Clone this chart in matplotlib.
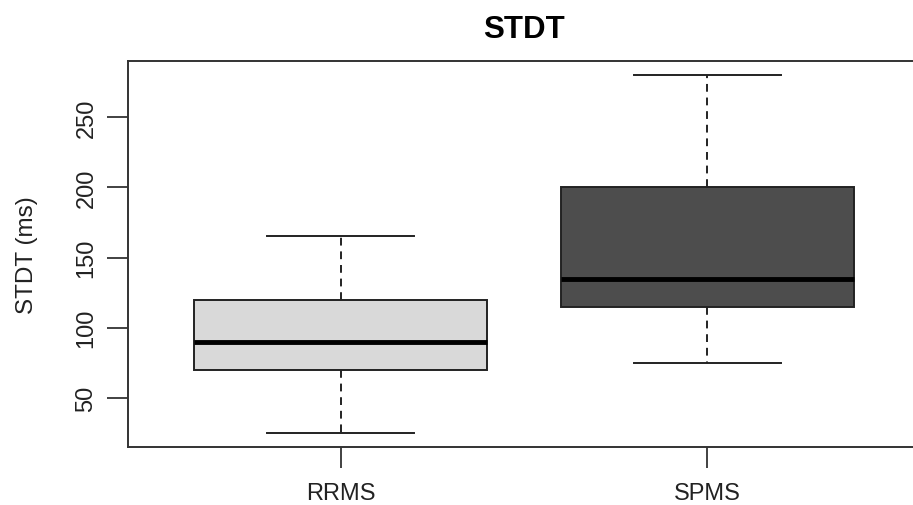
import matplotlib
matplotlib.use("Agg")
import matplotlib.pyplot as plt

plt.rcParams['font.family'] = ['Liberation Sans', 'DejaVu Sans']

categories = ["RRMS", "SPMS"]
whisker_low = [25, 75]
q1 = [70, 115]
medians = [90, 135]
q3 = [120, 200]
whisker_high = [165, 280]
fills = ["#d9d9d9", "#4d4d4d"]
yticks = [50, 100, 150, 200, 250]

fig = plt.figure(figsize=(9.13, 5.06), dpi=100)
ax = fig.add_axes([128/913, 58/506, (920-128)/913, (448-62)/506])

stats = []
for i, c in enumerate(categories):
    stats.append(dict(label=c, whislo=whisker_low[i], q1=q1[i], med=medians[i],
                      q3=q3[i], whishi=whisker_high[i], fliers=[]))

bp = ax.bxp(stats, positions=[1, 2], widths=0.8, patch_artist=True,
            showfliers=False,
            boxprops=dict(edgecolor='#222222', linewidth=1.4),
            medianprops=dict(color='black', linewidth=3.5, solid_capstyle='butt'),
            whiskerprops=dict(color='#222222', linewidth=1.4, linestyle=(0, (4, 3))),
            capprops=dict(color='#222222', linewidth=1.4),
            capwidths=0.4)
for patch, f in zip(bp['boxes'], fills):
    patch.set_facecolor(f)

ax.set_xlim(0.42, 2.58)
ax.set_ylim(14.8, 290.2)
ax.set_yticks(yticks)
ax.set_yticklabels([str(v) for v in yticks], rotation=90, va='center')
ax.set_xticks([1, 2])
ax.set_xticklabels(categories)
ax.tick_params(axis='both', labelsize=17, length=15, width=1.3, color='#333333',
               labelcolor='#222222')
ax.tick_params(axis='y', pad=7)
ax.tick_params(axis='x', pad=10)
for s in ax.spines.values():
    s.set_linewidth(1.4)
    s.set_color('#333333')
ax.set_ylabel("STDT (ms)", fontsize=17.5, color='#222222', labelpad=27)
ax.set_title("STDT", fontsize=22.5, fontweight='bold', pad=17)

fig.savefig("out.png", dpi=100)
